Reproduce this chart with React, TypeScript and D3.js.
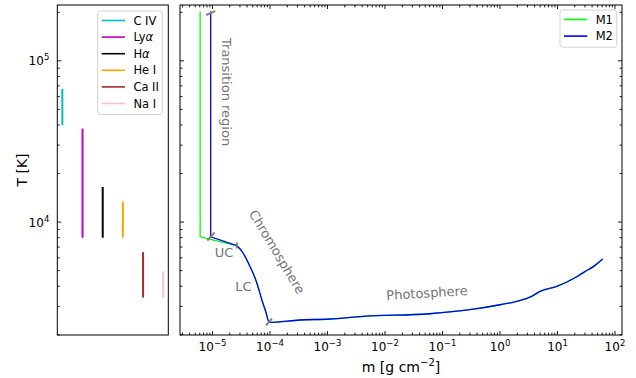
import * as d3 from 'd3';

// spectral lines (left panel): formation temperature ranges
const lineNames = ['C IV', 'Ly', 'H', 'He I', 'Ca II', 'Na I'];
const lineGreek = ['', 'α', 'α', '', '', ''];
const lineColors = ['#00bfbf', '#bf00bf', '#000000', '#ffa500', '#a52a2a', '#ffc0cb'];
const lineTmin = [40000, 8000, 8000, 8000, 3400, 3400];
const lineTmax = [67000, 38000, 16500, 13400, 6500, 4950];

// models (right panel), m [g cm^-2] vs T [K]
// head = transition region part (differs per model), tail = shared chromosphere + photosphere
const tailMass = [2.64e-5, 3.4e-5, 4.2e-5, 5.9e-5, 7.2e-5, 8.5e-5, 9.7e-5, 3.3e-4, 1.1e-3, 4.2e-3, 0.06, 0.3, 1, 1.95, 3.56, 4.97, 9.7, 21.6, 30, 42, 61];
const tailTemp = [7150, 6430, 5570, 4190, 3300, 2760, 2390, 2470, 2505, 2600, 2700, 2860, 3070, 3220, 3460, 3720, 3990, 4580, 4930, 5290, 5900];
const m1HeadMass = [6.1e-6, 6.1e-6, 9.3e-6, 2.64e-5];
const m1HeadTemp = [202000, 8100, 7800, 7150];
const m2HeadMass = [9.3e-6, 9.3e-6, 2.64e-5];
const m2HeadTemp = [202000, 8100, 7150];
const models = [
  { name: 'M1', color: '#00ff00', mass: m1HeadMass, temp: m1HeadTemp },
  { name: 'M2', color: '#0000ff', mass: m2HeadMass, temp: m2HeadTemp },
];

// region boundary marks: data point, angle (deg), length (px)
const marks = [
  { m: 9.3e-6, T: 198000, angle: -23, len: 10 },
  { m: 9.4e-6, T: 8150, angle: -48, len: 11 },
  { m: 2.64e-5, T: 7150, angle: -88, len: 6 },
  { m: 9.6e-5, T: 2400, angle: -50, len: 9 },
];

const W = 636;
const H = 378;
const FONT = 'DejaVu Sans, sans-serif';
const TEXT_GRAY = '#757575';

const top = 5;
const bottom = 335;
const left = { x0: 57.3, x1: 168.3 };
const right = { x0: 180, x1: 622 };

const y = d3.scaleLog().domain([1993, 2.22e5]).range([bottom, top]);
const xL = d3.scaleLinear().domain([-0.25, 5.25]).range([left.x0, left.x1]);
const xR = d3.scaleLog().domain([2.72e-6, 132.5]).range([right.x0, right.x1]);

const isMajor = (v: number) => Math.abs(Math.log10(v) - Math.round(Math.log10(v))) < 1e-6;
const yTicks = y.ticks().filter(v => v >= 1993 && v <= 2.22e5);
const xTicks = xR.ticks().filter(v => v >= 2.72e-6 && v <= 132.5);
const sup = (v: number) => String(Math.round(Math.log10(v))).replace('-', '\u2212');

const MAJ = 4;
const MIN = 2.4;

function YTicks({ x, dir }: { x: number; dir: number }) {
  return (
    <g>
      {yTicks.map((v, i) => (
        <line key={i} x1={x} x2={x + dir * (isMajor(v) ? MAJ : MIN)} y1={y(v)} y2={y(v)} stroke="#000" strokeWidth={0.9} />
      ))}
    </g>
  );
}

function XTicks({ yPos, dir }: { yPos: number; dir: number }) {
  return (
    <g>
      {xTicks.map((v, i) => (
        <line key={i} x1={xR(v)} x2={xR(v)} y1={yPos} y2={yPos + dir * (isMajor(v) ? MAJ : MIN)} stroke="#000" strokeWidth={0.9} />
      ))}
    </g>
  );
}

function Legend({ x, y0, w, items }: { x: number; y0: number; w: number; items: { label: any; color: string }[] }) {
  const row = 16.6;
  const h = items.length * row + 4;
  return (
    <g>
      <rect x={x} y={y0} width={w} height={h} rx={2.5} fill="#fff" fillOpacity={0.8} stroke="#cccccc" strokeWidth={0.9} />
      {items.map((it, i) => {
        const cy = y0 + 9.5 + i * row;
        return (
          <g key={i}>
            <line x1={x + 4} x2={x + 27.3} y1={cy} y2={cy} stroke={it.color} strokeWidth={1.6} />
            <text x={x + 35.7} y={cy + 4} fontSize={11.5} fontFamily={FONT} fill="#000">{it.label}</text>
          </g>
        );
      })}
    </g>
  );
}

export default function App() {
  const headLine = d3.line<[number, number]>().x(d => xR(d[0])).y(d => y(d[1]));
  const tailLine = d3.line<[number, number]>().x(d => xR(d[0])).y(d => y(d[1])).curve(d3.curveMonotoneX);
  const tailPts = tailMass.map((m, i) => [m, tailTemp[i]] as [number, number]);

  return (
    <div style={{ position: 'absolute', left: 0, top: 0 }}>
      <svg width={W} height={H} style={{ display: 'block', background: '#fff' }}>
        {/* left panel */}
        {lineNames.map((n, i) => (
          <line key={n} x1={xL(i)} x2={xL(i)} y1={y(lineTmin[i])} y2={y(lineTmax[i])} stroke={lineColors[i]} strokeWidth={2} />
        ))}
        <YTicks x={left.x0} dir={1} />
        {yTicks.filter(isMajor).map((v, i) => (
          <text key={i} x={left.x0 - 8} y={y(v) + 4.5} textAnchor="end" fontSize={12} fontFamily={FONT}>
            10<tspan dy={-5} fontSize={8.5}>{sup(v)}</tspan>
          </text>
        ))}
        <text transform={`translate(22,${(top + bottom) / 2}) rotate(-90)`} textAnchor="middle" dominantBaseline="central" fontSize={14} fontFamily={FONT}>T [K]</text>
        <Legend
          x={97.7}
          y0={11}
          w={64.6}
          items={lineNames.map((n, i) => ({
            label: (<>{n}<tspan fontStyle="italic">{lineGreek[i]}</tspan></>),
            color: lineColors[i],
          }))}
        />
        <rect x={left.x0} y={top} width={left.x1 - left.x0} height={bottom - top} fill="none" stroke="#000" strokeWidth={1} />

        {/* right panel */}
        {models.map(md => (
          <g key={md.name}>
            <path d={headLine(md.mass.map((m, i) => [m, md.temp[i]] as [number, number])) || ''} fill="none" stroke={md.color} strokeWidth={1.3} />
            <path d={tailLine(tailPts) || ''} fill="none" stroke={md.color} strokeWidth={1.3} />
          </g>
        ))}
        {marks.map((mk, i) => {
          const cx = xR(mk.m);
          const cy = y(mk.T);
          const a = (mk.angle * Math.PI) / 180;
          const dx = (Math.cos(a) * mk.len) / 2;
          const dy = (Math.sin(a) * mk.len) / 2;
          return <line key={i} x1={cx - dx} y1={cy - dy} x2={cx + dx} y2={cy + dy} stroke="#808080" strokeWidth={2} />;
        })}
        <text transform={`translate(${xR(1.45e-5)},${y(198000) + 25}) rotate(90)`} fontSize={13} fontFamily={FONT} fill={TEXT_GRAY}>Transition region</text>
        <text transform={`translate(${xR(1.32e-4)},${y(6520)}) rotate(59)`} textAnchor="middle" dominantBaseline="central" fontSize={13} fontFamily={FONT} fill={TEXT_GRAY}>Chromosphere</text>
        <text x={xR(1.58e-5)} y={y(6520)} textAnchor="middle" dominantBaseline="central" fontSize={13} fontFamily={FONT} fill={TEXT_GRAY}>UC</text>
        <text x={xR(3.46e-5)} y={y(4010)} textAnchor="middle" dominantBaseline="central" fontSize={13} fontFamily={FONT} fill={TEXT_GRAY}>LC</text>
        <text transform={`translate(${xR(0.0537)},${y(3627)}) rotate(-3.5)`} textAnchor="middle" dominantBaseline="central" fontSize={13} fontFamily={FONT} fill={TEXT_GRAY}>Photosphere</text>

        <YTicks x={right.x0} dir={1} />
        <YTicks x={right.x1} dir={-1} />
        <XTicks yPos={bottom} dir={-1} />
        <XTicks yPos={top} dir={1} />
        {xTicks.filter(isMajor).map((v, i) => (
          <text key={i} x={xR(v)} y={351} textAnchor="middle" fontSize={12} fontFamily={FONT}>
            10<tspan dy={-5} fontSize={8.5}>{sup(v)}</tspan>
          </text>
        ))}
        <text x={(right.x0 + right.x1) / 2} y={372} textAnchor="middle" fontSize={14} fontFamily={FONT}>
          m [g cm<tspan dy={-6} fontSize={10}>{'\u22122'}</tspan><tspan dy={6}>]</tspan>
        </text>
        <Legend x={560} y0={10} w={56.7} items={models.map(md => ({ label: md.name, color: md.color }))} />
        <rect x={right.x0} y={top} width={right.x1 - right.x0} height={bottom - top} fill="none" stroke="#000" strokeWidth={1} />
      </svg>
    </div>
  );
}
